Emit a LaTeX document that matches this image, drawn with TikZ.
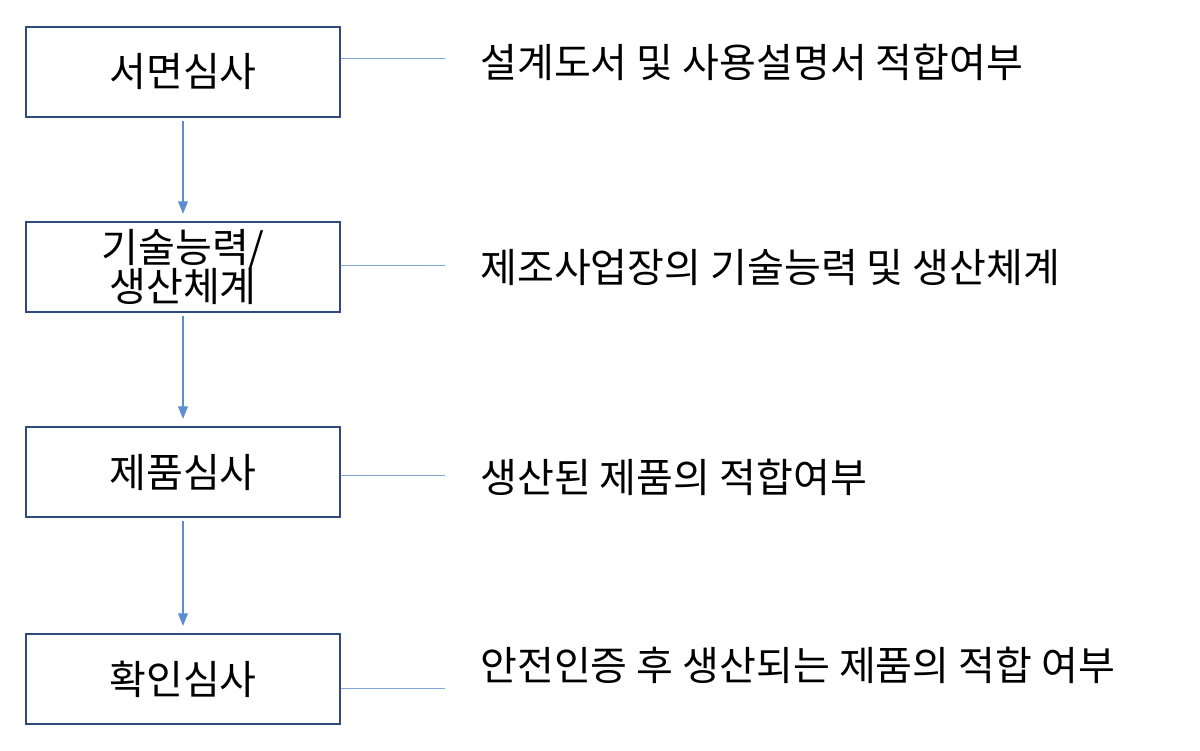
\documentclass[tikz,border=0pt]{standalone}
\usepackage{fontspec}
\setmainfont{Noto Sans CJK KR}
\usetikzlibrary{arrows.meta}
\definecolor{boxline}{HTML}{2F4B7C}
\definecolor{arrowblue}{HTML}{5B8FD0}
\definecolor{linkblue}{HTML}{7FA6D6}
\tikzset{
    stagebox/.style={rectangle, draw=boxline, line width=1.5pt, minimum width=7.85cm, minimum height=2.25cm, font=\fontsize{28.5}{34}\selectfont, align=center, inner sep=0pt},
    desc/.style={anchor=west, font=\fontsize{28.5}{34}\selectfont, inner sep=0pt},
    flow/.style={-{Triangle[length=9pt,width=7pt]}, draw=arrowblue, line width=0.8pt, shorten <=2pt, shorten >=5pt},
    link/.style={draw=linkblue, line width=0.6pt}
}
\begin{document}
\begin{tikzpicture}[x=0.025cm, y=-0.025cm]
    \useasboundingbox (0,0) rectangle (1200,750);
    \node[stagebox] (paper) at (183,72) {서면심사};
    \node[stagebox] (tech) at (183,267) {기술능력/\\[-6pt]생산체계};
    \node[stagebox] (product) at (183,472) {제품심사};
    \node[stagebox] (confirm) at (183,679) {확인심사};

    \draw[flow] (paper) -- (tech);
    \draw[flow] (tech) -- (product);
    \draw[flow] (product) -- (confirm);

    \node[desc] (d1) at (480,62) {설계도서 및 사용설명서 적합여부};
    \node[desc] (d2) at (480,268) {제조사업장의 기술능력 및 생산체계};
    \node[desc] (d3) at (480,477) {생산된 제품의 적합여부};
    \node[desc] (d4) at (480,665) {안전인증 후 생산되는 제품의 적합 여부};

    \coordinate (e1) at (445,58);
    \coordinate (e2) at (445,265);
    \coordinate (e3) at (445,475);
    \coordinate (e4) at (445,688);
    \draw[link] (paper.east |- e1) -- (e1);
    \draw[link] (tech.east |- e2) -- (e2);
    \draw[link] (product.east |- e3) -- (e3);
    \draw[link] (confirm.east |- e4) -- (e4);
\end{tikzpicture}
\end{document}
